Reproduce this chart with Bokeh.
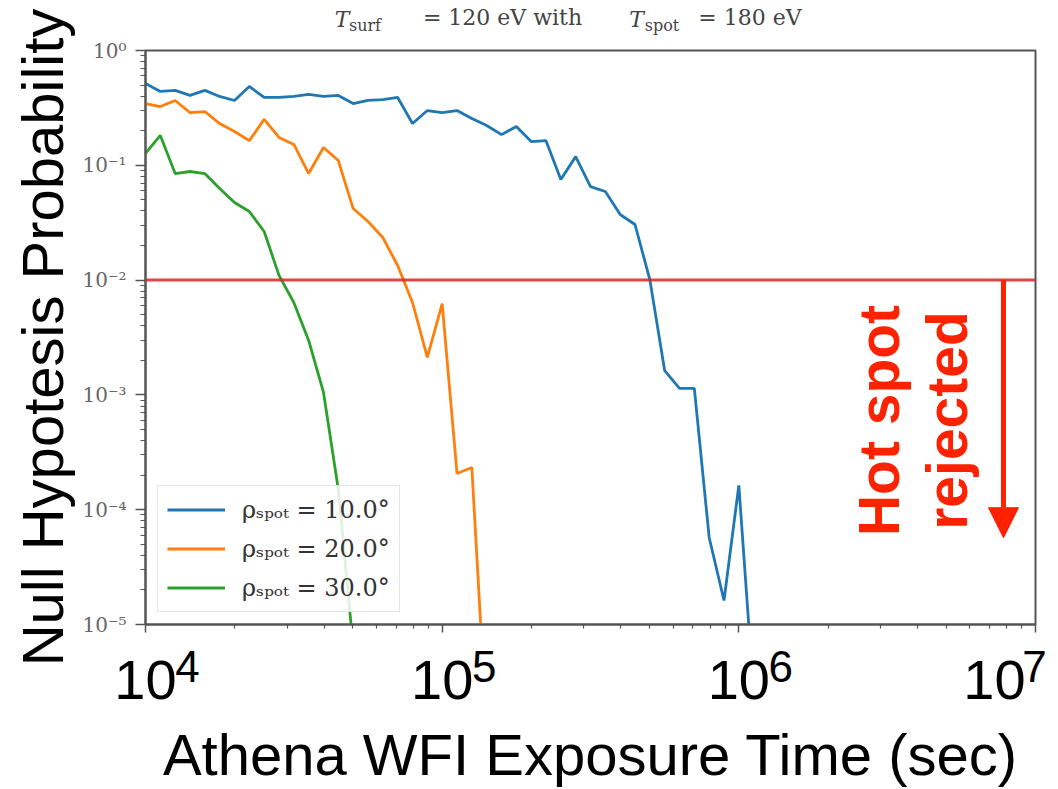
import math
from bokeh.plotting import figure
from bokeh.models import (Range1d, FixedTicker, CustomJSTickFormatter, Label, Span,
                          Arrow, NormalHead, Legend, LegendItem, LinearAxis, LinearScale)
from bokeh.embed import file_html
from bokeh.resources import INLINE

# ---------------- data ----------------
exposure = [10000, 11220, 12589, 14125, 15849, 17783, 19953, 22387, 25119, 28184,
            31623, 35481, 39811, 44668, 50119, 56234, 63096, 70795, 79433, 89125,
            100000, 112202, 125893, 141254, 158489, 177828, 199526, 223872, 251189, 281838,
            316228, 354813, 398107, 446684, 501187, 562341, 630957, 707946, 794328, 891251,
            1000000, 1122018]

p_rho10 = [0.516, 0.440, 0.449, 0.406, 0.449, 0.398, 0.367, 0.486, 0.390, 0.390,
           0.398, 0.414, 0.398, 0.406, 0.345, 0.367, 0.374, 0.390, 0.231, 0.300,
           0.288, 0.300, 0.256, 0.222, 0.185, 0.218, 0.161, 0.164, 0.0752, 0.119,
           0.0653, 0.0591, 0.0373, 0.0305, 0.0101, 0.00163, 0.00114, 0.00114, 5.73e-5, 1.62e-5,
           1.63e-4, 2.5e-6]

p_rho20 = [0.345, 0.325, 0.367, 0.288, 0.294, 0.231, 0.197, 0.164, 0.251, 0.175,
           0.152, 0.0848, 0.143, 0.110, 0.042, 0.0324, 0.0235, 0.0134, 0.00638, 0.00212,
           0.00625, 2.07e-4, 2.33e-4, 1.2e-6]

p_rho30 = [0.127, 0.182, 0.0848, 0.0883, 0.0848, 0.0628, 0.0474, 0.0396, 0.0265, 0.011,
           0.00638, 0.00298, 0.00105, 1.5e-4, 6.4e-6]

series_labels = ["ρₛₚₒₜ = 10.0°", "ρₛₚₒₜ = 20.0°", "ρₛₚₒₜ = 30.0°"]
series_colors = ["#1f77b4", "#ff7f0e", "#2ca02c"]

threshold = 1e-2

x_ticks = [1e4, 1e5, 1e6, 1e7]
x_tick_base = ["10", "10", "10", "10"]
x_tick_exp = ["4", "5", "6", "7"]

y_ticks = [1, 1e-1, 1e-2, 1e-3, 1e-4, 1e-5]
y_tick_labels = ["10⁰", "10⁻¹", "10⁻²", "10⁻³", "10⁻⁴", "10⁻⁵"]

title_symbol = ["T", "T"]
title_subscripts = ["surf", "spot"]
title_texts = ["= 120 eV with", "= 180 eV"]
x_title = "Athena WFI Exposure Time (sec)"
y_title = "Null Hypotesis Probability"
note_lines = ["Hot spot", "rejected"]

# ---------------- layout constants (pixels) ----------------
W, H = 1058, 789
FL, FR, FT, FB = 145, 1035, 50, 624          # frame edges
FW = FR - FL                                 # frame width in px


def px_of_tick(t):
    return (math.log10(t) - 4.0) * FW / 3.0


def text_axis(place, positions, labels, size, standoff, font="Liberation Sans",
              style="normal", color="black"):
    ax = LinearAxis(x_range_name="px",
                    ticker=FixedTicker(ticks=positions, minor_ticks=[]),
                    formatter=CustomJSTickFormatter(
                        args=dict(pos=positions, labels=labels),
                        code="const i = pos.indexOf(tick); return i >= 0 ? labels[i] : '';"))
    ax.axis_line_color = None
    ax.major_tick_line_color = None
    ax.minor_tick_line_color = None
    ax.major_tick_in = 0
    ax.major_tick_out = 0
    ax.minor_tick_in = 0
    ax.minor_tick_out = 0
    ax.major_label_text_font = font
    ax.major_label_text_font_size = size
    ax.major_label_text_font_style = style
    ax.major_label_text_color = color
    ax.major_label_standoff = standoff
    p.add_layout(ax, place)
    return ax


# ---------------- figure ----------------
p = figure(width=W, height=H, x_axis_type="log", y_axis_type="log",
           x_range=Range1d(1e4, 1e7), y_range=Range1d(1e-5, 1),
           output_backend="svg", toolbar_location=None,
           min_border_left=FL, min_border_right=W - FR, min_border_top=FT,
           min_border_bottom=H - FB)
p.extra_x_ranges = {"px": Range1d(0, FW)}
p.extra_x_scales = {"px": LinearScale()}
p.background_fill_color = "white"
p.border_fill_color = "white"
p.outline_line_color = "#555555"
p.outline_line_width = 2
p.xgrid.visible = False
p.ygrid.visible = False

# y axis
ya = p.yaxis[0]
ya.ticker = FixedTicker(ticks=y_ticks,
                        minor_ticks=[m * 10.0 ** d for d in range(-5, 0) for m in range(2, 10)])
ya.formatter = CustomJSTickFormatter(args=dict(labels=y_tick_labels),
                                     code="return labels[Math.round(-Math.log10(tick))];")
ya.major_label_text_font = "DejaVu Serif"
ya.major_label_text_font_size = "20px"
ya.major_label_text_color = "#666666"
ya.major_label_standoff = 9
ya.axis_line_color = "#555555"
ya.axis_line_width = 2
ya.major_tick_line_color = "#555555"
ya.minor_tick_line_color = "#555555"
ya.major_tick_line_width = 1.5
ya.minor_tick_line_width = 1.2
ya.major_tick_out = 10
ya.major_tick_in = 0
ya.minor_tick_out = 5
ya.minor_tick_in = 0
ya.axis_label = y_title
ya.axis_label_text_font = "Liberation Sans"
ya.axis_label_text_font_size = "58px"
ya.axis_label_text_font_style = "normal"
ya.axis_label_text_color = "black"
ya.axis_label_standoff = 4

# x axis: ticks only
xa = p.xaxis[0]
xa.ticker = FixedTicker(ticks=x_ticks,
                        minor_ticks=[m * 10.0 ** d for d in range(4, 7) for m in range(2, 10)])
xa.formatter = CustomJSTickFormatter(code="return '';")
xa.major_label_text_font_size = "1px"
xa.major_label_standoff = 0
xa.axis_line_color = "#555555"
xa.axis_line_width = 2
xa.major_tick_line_color = "#555555"
xa.minor_tick_line_color = "#555555"
xa.major_tick_line_width = 1.5
xa.minor_tick_line_width = 1.2
xa.major_tick_out = 8
xa.major_tick_in = 0
xa.minor_tick_out = 4
xa.minor_tick_in = 0

# big tick labels below: exponent row first, then the "10" row (overlapping)
base_px = [round(px_of_tick(t), 1) for t in x_ticks]
exp_px = [round(b + 42, 1) for b in base_px]
exp_px[-1] = FW - 1                                # last label kept inside the page
base_px[-1] = exp_px[-1] - 40
text_axis("below", exp_px, x_tick_exp, "44px", 18)
ax10 = text_axis("below", base_px, x_tick_base, "56px", -24)
ax10.axis_label = x_title
ax10.axis_label_text_font = "Liberation Sans"
ax10.axis_label_text_font_size = "58px"
ax10.axis_label_text_font_style = "normal"
ax10.axis_label_text_color = "black"
ax10.axis_label_standoff = 20

# title above: subscripts row, italic T row, plain text row (overlapping)
text_axis("above", [219.5, 516.5], title_subscripts, "16px", 16,
          font="DejaVu Serif", color="#444444")
text_axis("above", [196.5, 491.0], title_symbol, "22px", -19,
          font="DejaVu Serif", style="italic", color="#444444")
text_axis("above", [357.0, 604.5], title_texts, "22px", -26,
          font="DejaVu Serif", color="#444444")

# ---------------- series ----------------
renderers = []
for vals, col in zip([p_rho10, p_rho20, p_rho30], series_colors):
    r = p.line(exposure[:len(vals)], vals, line_color=col, line_width=2.8)
    renderers.append(r)

p.add_layout(Span(location=threshold, dimension="width", line_color="#d62728",
                  line_width=3, line_alpha=0.85))

legend = Legend(items=[LegendItem(label=lab, renderers=[r]) for lab, r in zip(series_labels, renderers)],
                location="bottom_left", margin=12, padding=9, spacing=10,
                label_text_font="DejaVu Serif", label_text_font_size="24px",
                label_text_color="#333333", glyph_width=58, glyph_height=29,
                label_height=29, label_standoff=17,
                border_line_color="#cccccc", border_line_width=1.5,
                background_fill_color="white", background_fill_alpha=0.85)
p.add_layout(legend)

# ---------------- annotation arrow ----------------
p.add_layout(Arrow(end=NormalHead(size=30, fill_color="#ff2200", line_color="#ff2200"),
                   x_start=7.8e6, y_start=threshold, x_end=7.8e6, y_end=5.7e-5,
                   line_color="#ff2200", line_width=5))
for txt, bx in zip(note_lines, [878, 946]):
    p.add_layout(Label(x=bx - FL, y=FB - 420, x_units="screen", y_units="screen", text=txt,
                       angle=math.pi / 2, text_align="center", text_baseline="alphabetic",
                       text_font="Liberation Sans", text_font_style="bold",
                       text_font_size="57px", text_color="#ff2200"))

open("out.html", "w").write(file_html(p, INLINE))
